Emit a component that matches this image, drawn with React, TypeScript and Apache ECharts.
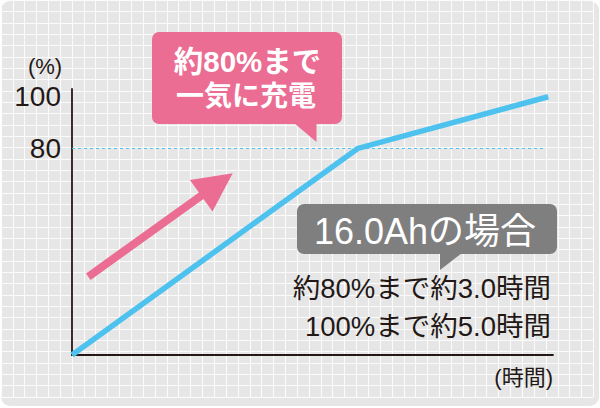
import { useEffect, useRef } from 'react';
import * as echarts from 'echarts';

// charging curve (16.0Ah pack)
const hours = [0, 3.0, 5.0];
const chargePct = [0, 80, 100];
const yTickLabels = [80, 100];
const fastChargeLevel = 80;

const FONT = '"Liberation Sans", "Noto Sans CJK JP", sans-serif';
const INK = '#231815';
const BLUE = '#4dc2ee';
const PINK = '#eb6d93';
const GRAY_BOX = '#7f7f7f';
const BG = '#e6e6e6';

export default function App() {
  const chartRef = useRef<HTMLDivElement>(null);

  useEffect(() => {
    if (!chartRef.current) return;
    const chart = echarts.init(chartRef.current, undefined, { renderer: 'svg' });

    chart.setOption({
      animation: false,
      backgroundColor: '#ffffff',
      grid: [
        // main plot
        { left: 72, right: 47, top: 89, bottom: 53 },
        // graph-paper backdrop
        { left: 0.9, top: 0.3, width: 592.5, height: 396.6 },
      ],
      xAxis: [
        {
          type: 'value',
          gridIndex: 0,
          min: 0,
          max: 5.05,
          axisLine: { show: true, lineStyle: { color: INK, width: 1.8 } },
          axisTick: { show: false },
          axisLabel: { show: false },
          splitLine: { show: false },
        },
        {
          type: 'value',
          gridIndex: 1,
          min: 0,
          max: 50,
          interval: 1,
          axisLine: { show: false },
          axisTick: { show: false },
          axisLabel: { show: false },
          splitLine: { show: true, lineStyle: { color: '#fbfbfb', width: 1.1 } },
        },
      ],
      yAxis: [
        {
          type: 'value',
          gridIndex: 0,
          min: 0,
          max: 103,
          axisLine: { show: true, lineStyle: { color: INK, width: 1.8 } },
          axisTick: { show: false },
          axisLabel: {
            customValues: yTickLabels,
            fontSize: 28,
            lineHeight: 26,
            fontFamily: FONT,
            color: INK,
            margin: 11,
          },
          splitLine: { show: false },
        },
        {
          type: 'value',
          gridIndex: 1,
          min: 0,
          max: 35,
          interval: 1,
          axisLine: { show: false },
          axisTick: { show: false },
          axisLabel: { show: false },
          splitLine: { show: true, lineStyle: { color: '#fbfbfb', width: 1.1 } },
        },
      ],
      series: [
        {
          type: 'line',
          xAxisIndex: 0,
          yAxisIndex: 0,
          data: hours.map((h, i) => [h, chargePct[i]]),
          showSymbol: false,
          symbol: 'none',
          z: 5,
          lineStyle: { color: BLUE, width: 5.5, cap: 'butt', join: 'miter' },
          markLine: {
            silent: true,
            symbol: 'none',
            label: { show: false },
            lineStyle: { color: BLUE, width: 1.2, type: [3, 3] },
            data: [[{ coord: [0, fastChargeLevel] }, { coord: [4.97, fastChargeLevel] }]],
          },
        },
      ],
      graphic: [
        {
          type: 'rect',
          z: -100,
          shape: { x: 1, y: 1, width: 598, height: 405, r: 9 },
          style: { fill: BG },
        },
        // pink arrow
        {
          type: 'polygon',
          z: 10,
          shape: {
            points: [
              [86.0, 273.4], [198.9, 192.5], [189.9, 180.0], [232.7, 173.3],
              [212.5, 211.6], [203.5, 199.1], [90.6, 279.9],
            ],
          },
          style: { fill: PINK },
        },
        // pink callout
        {
          type: 'rect',
          z: 10,
          shape: { x: 152, y: 32, width: 190, height: 92, r: 7 },
          style: { fill: PINK },
        },
        {
          type: 'polygon',
          z: 10,
          shape: { points: [[294, 123], [316.5, 123], [316.5, 142]] },
          style: { fill: PINK },
        },
        {
          type: 'text',
          z: 11,
          x: 247.5,
          y: 61,
          style: {
            text: '約80%まで',
            fill: '#ffffff',
            font: `bold 29.5px ${FONT}`,
            lineHeight: 30,
            align: 'center',
            verticalAlign: 'middle',
          },
        },
        {
          type: 'text',
          z: 11,
          x: 246,
          y: 96,
          style: {
            text: '一気に充電',
            fill: '#ffffff',
            font: `bold 28px ${FONT}`,
            lineHeight: 30,
            align: 'center',
            verticalAlign: 'middle',
          },
        },
        // gray callout
        {
          type: 'rect',
          z: 10,
          shape: { x: 297, y: 204, width: 260, height: 50, r: 7 },
          style: { fill: GRAY_BOX },
        },
        {
          type: 'polygon',
          z: 10,
          shape: { points: [[440, 253], [462, 253], [440, 270]] },
          style: { fill: GRAY_BOX },
        },
        {
          type: 'text',
          z: 11,
          x: 425,
          y: 231,
          style: {
            text: '16.0Ahの場合',
            fill: '#ffffff',
            font: `36px ${FONT}`,
            lineHeight: 36,
            align: 'center',
            verticalAlign: 'middle',
          },
        },
        {
          type: 'text',
          z: 11,
          x: 551,
          y: 288,
          style: {
            text: '約80%まで約3.0時間',
            fill: INK,
            font: `27.5px ${FONT}`,
            lineHeight: 30,
            align: 'right',
            verticalAlign: 'middle',
          },
        },
        {
          type: 'text',
          z: 11,
          x: 551,
          y: 326,
          style: {
            text: '100%まで約5.0時間',
            fill: INK,
            font: `27.5px ${FONT}`,
            lineHeight: 30,
            align: 'right',
            verticalAlign: 'middle',
          },
        },
        // axis names
        {
          type: 'text',
          z: 11,
          x: 45,
          y: 66,
          style: {
            text: '(%)',
            fill: INK,
            font: `22px ${FONT}`,
            lineHeight: 20,
            align: 'center',
            verticalAlign: 'middle',
          },
        },
        {
          type: 'text',
          z: 11,
          x: 553,
          y: 377,
          style: {
            text: '(時間)',
            fill: INK,
            font: `22px ${FONT}`,
            lineHeight: 22,
            align: 'right',
            verticalAlign: 'middle',
          },
        },
      ],
    });

    return () => {
      chart.dispose();
    };
  }, []);

  return (
    <div
      ref={chartRef}
      style={{ position: 'absolute', left: 0, top: 0, width: '600px', height: '408px' }}
    />
  );
}
